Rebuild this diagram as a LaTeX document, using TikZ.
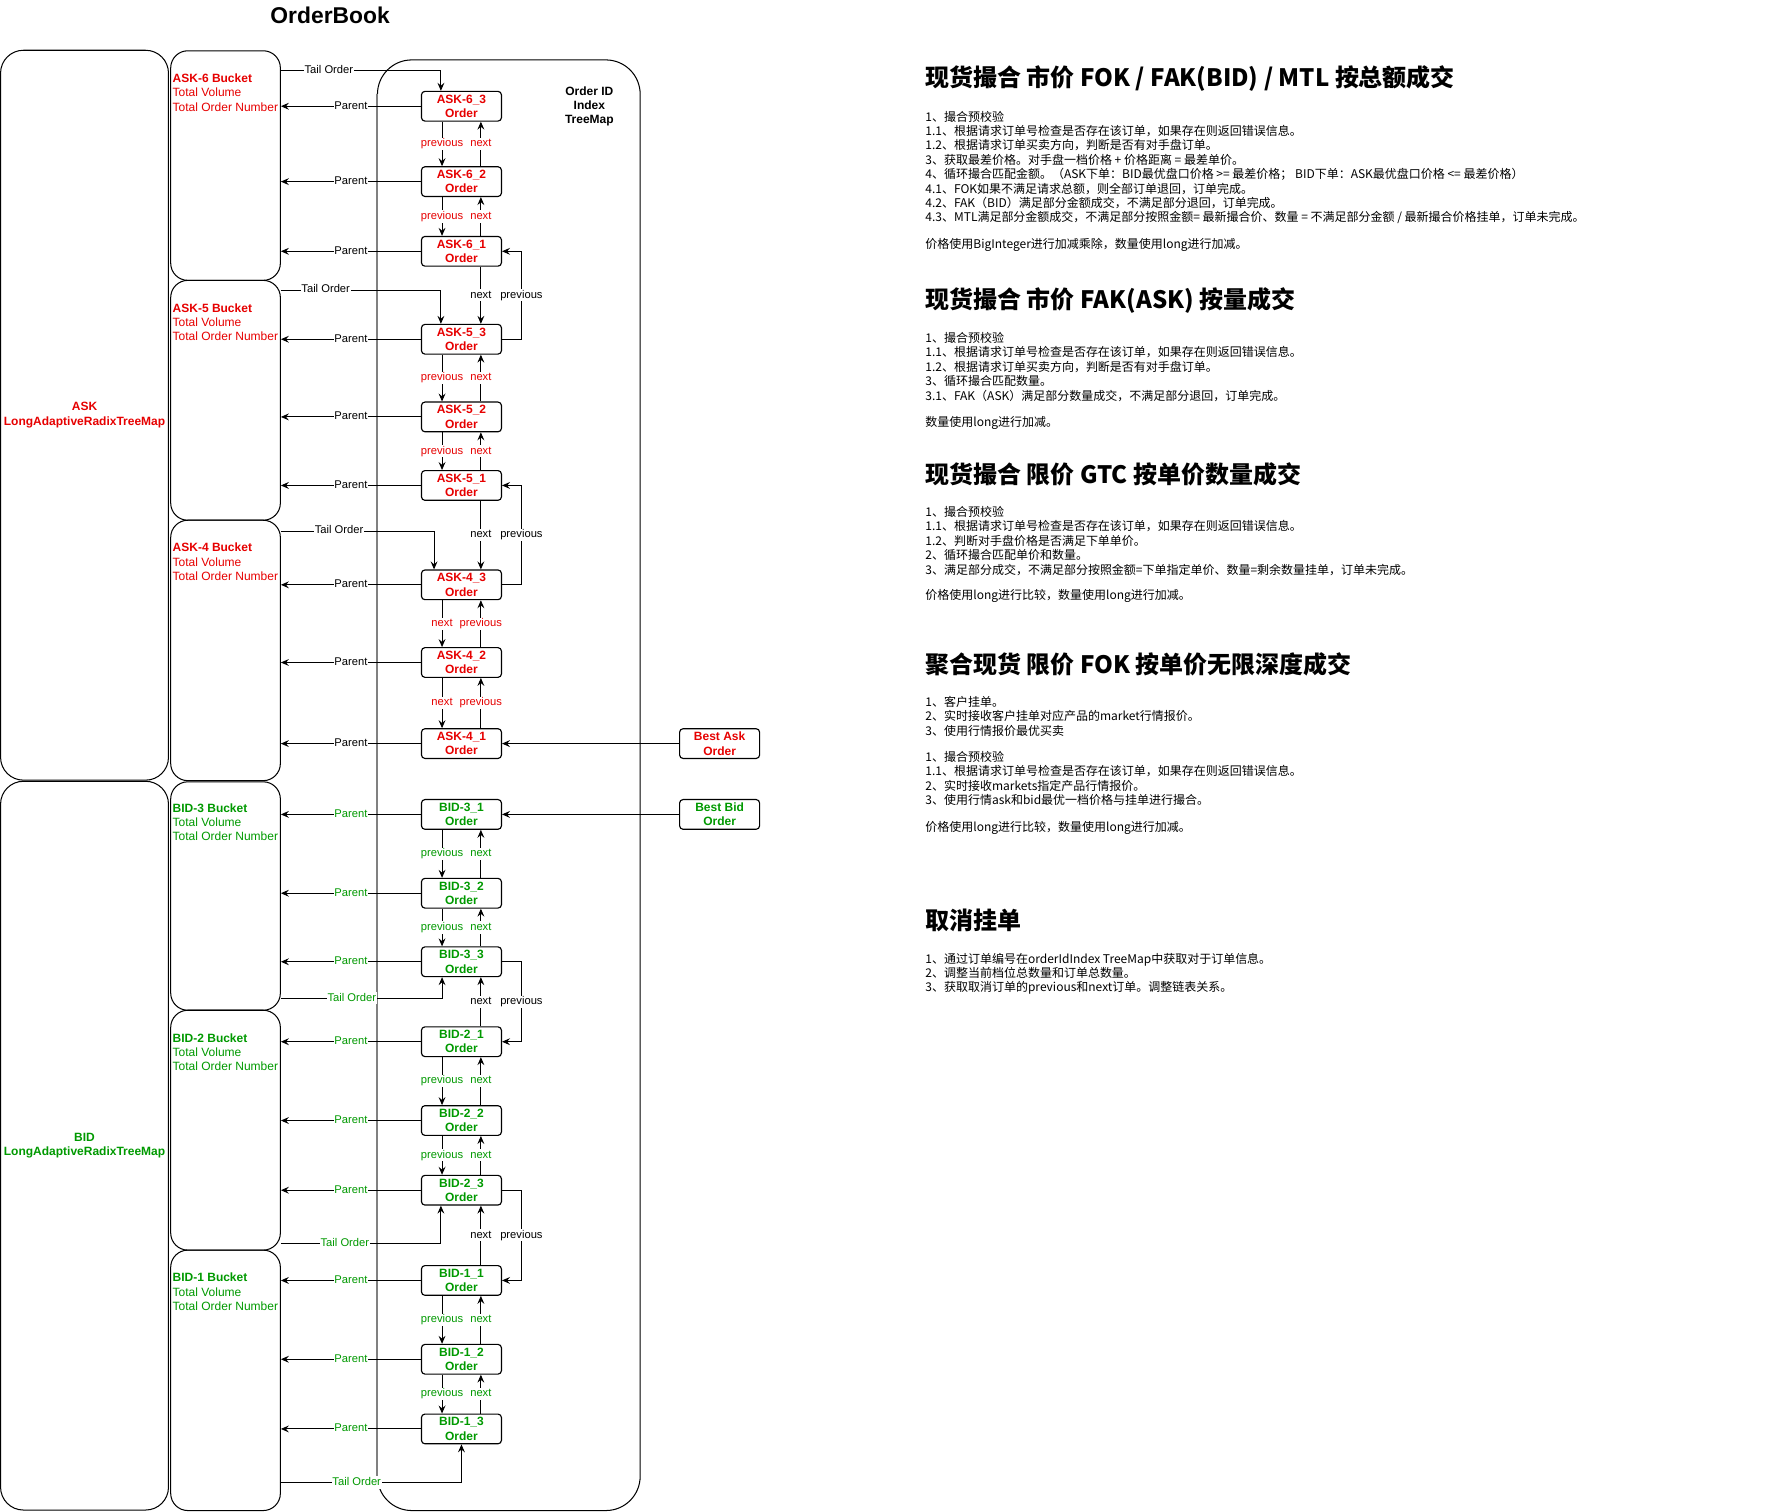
\documentclass[tikz,border=0pt]{standalone}
\usepackage{fontspec}
\setmainfont{Liberation Sans}
\newfontfamily\cjk{Noto Sans CJK SC}
\usetikzlibrary{arrows.meta,positioning}

\definecolor{askred}{HTML}{E60000}
\definecolor{bidgreen}{HTML}{009900}

\tikzset{
    treemap/.style={draw, line width=0.9pt, rounded corners=20pt, minimum width=147pt, inner sep=0pt, align=center, font=\bfseries\fontsize{10.5}{13}\selectfont},
    bucket/.style={draw, line width=0.9pt, rounded corners=15pt, minimum width=96pt, inner sep=0pt, anchor=north west},
    bktext/.style={anchor=west, align=left, inner sep=0pt, font=\fontsize{10.5}{12.5}\selectfont},
    order/.style={draw, line width=1pt, rounded corners=3pt, minimum width=70pt, minimum height=26pt, inner sep=0pt, align=center, font=\bfseries\fontsize{10.5}{12.5}\selectfont},
    link/.style={-{Stealth[length=7pt,width=6pt,inset=2.5pt]}, line width=0.8pt},
    lbl/.style={fill=white, inner sep=0.6pt, text height=7.2pt, text depth=2.2pt, font=\fontsize{9.8}{11}\selectfont},
    heading/.style={anchor=west, inner sep=0pt, font=\cjk\bfseries\fontsize{21}{24}\selectfont},
    notes/.style={anchor=west, align=left, inner sep=0pt, font=\cjk\fontsize{10.5}{12.6}\selectfont},
}

\begin{document}
\begin{tikzpicture}[x=1pt, y=-1pt]
    \useasboundingbox (0,0) rectangle (1568,1323);
    \node[font=\bfseries\fontsize{20}{24}\selectfont] (title) at (289,13) {OrderBook};

    % price level maps
    \node[treemap, text=askred, minimum height=639pt] (askmap) at (74,363.5) {ASK\\LongAdaptiveRadixTreeMap};
    \node[treemap, text=bidgreen, minimum height=638pt] (bidmap) at (74,1003) {BID\\LongAdaptiveRadixTreeMap};

    % buckets
    \node[bucket, minimum height=201pt] (bk6) at (149,44) {};
    \node[bucket, minimum height=210pt] (bk5) at (149,245) {};
    \node[bucket, minimum height=228pt] (bk4) at (149,455) {};
    \node[bucket, minimum height=200pt] (bb3) at (149,684) {};
    \node[bucket, minimum height=210pt] (bb2) at (149,884) {};
    \node[bucket, minimum height=228pt] (bb1) at (149,1094) {};
    \node[bktext, text=askred] (bk6t) at (151,81) {\textbf{ASK-6 Bucket}\\Total Volume\\Total Order Number};
    \node[bktext, text=askred] (bk5t) at (151,282) {\textbf{ASK-5 Bucket}\\Total Volume\\Total Order Number};
    \node[bktext, text=askred] (bk4t) at (151,492) {\textbf{ASK-4 Bucket}\\Total Volume\\Total Order Number};
    \node[bktext, text=bidgreen] (bb3t) at (151,720) {\textbf{BID-3 Bucket}\\Total Volume\\Total Order Number};
    \node[bktext, text=bidgreen] (bb2t) at (151,921) {\textbf{BID-2 Bucket}\\Total Volume\\Total Order Number};
    \node[bktext, text=bidgreen] (bb1t) at (151,1131) {\textbf{BID-1 Bucket}\\Total Volume\\Total Order Number};

    % order id index
    \node[draw, line width=0.9pt, rounded corners=30pt, minimum width=230pt, minimum height=1270pt, inner sep=0pt, anchor=north west] (idx) at (330,52) {};
    \draw[gray, line width=1.6pt] ([yshift=-30pt]idx.north west) -- ([yshift=30pt]idx.south west);
    \node[align=center, font=\bfseries\fontsize{10.5}{12.5}\selectfont] (idxt) at (516,93) {Order ID\\Index\\TreeMap};

    % orders
    \foreach \n/\y/\t in {a63/93/ASK-6\_3, a62/159/ASK-6\_2, a61/220/ASK-6\_1, a53/297/ASK-5\_3, a52/365/ASK-5\_2, a51/425/ASK-5\_1, a43/512/ASK-4\_3, a42/580/ASK-4\_2, a41/651/ASK-4\_1}
        \node[order, text=askred] (\n) at (404,\y) {\t\\Order};
    \foreach \n/\y/\t in {b31/713/BID-3\_1, b32/782/BID-3\_2, b33/842/BID-3\_3, b21/912/BID-2\_1, b22/981/BID-2\_2, b23/1042/BID-2\_3, b11/1121/BID-1\_1, b12/1190/BID-1\_2, b13/1251/BID-1\_3}
        \node[order, text=bidgreen] (\n) at (404,\y) {\t\\Order};
    \node[order, text=askred] (bestask) at (630,651) {Best Ask\\Order};
    \node[order, text=bidgreen] (bestbid) at (630,713) {Best Bid\\Order};
    \draw[link] (bestask) -- (a41);
    \draw[link] (bestbid) -- (b31);

    % parent links
    \foreach \n/\b in {a63/bk6, a62/bk6, a61/bk6, a53/bk5, a52/bk5, a51/bk5, a43/bk4, a42/bk4, a41/bk4}
        \draw[link] (\n.west) -- (\n.west -| \b.east) node[lbl, midway] {Parent};
    \foreach \n/\b in {b31/bb3, b32/bb3, b33/bb3, b21/bb2, b22/bb2, b23/bb2, b11/bb1, b12/bb1, b13/bb1}
        \draw[link] (\n.west) -- (\n.west -| \b.east) node[lbl, midway, text=bidgreen] {Parent};

    % links inside a bucket
    \foreach \u/\l in {a63/a62, a62/a61, a53/a52, a52/a51} {
        \draw[link] ([xshift=-17pt]\u.south) -- ([xshift=-17pt]\l.north) node[lbl, midway, text=askred] {previous};
        \draw[link] ([xshift=17pt]\l.north) -- ([xshift=17pt]\u.south) node[lbl, midway, text=askred] {next};
    }
    \foreach \u/\l in {a43/a42, a42/a41} {
        \draw[link] ([xshift=-17pt]\u.south) -- ([xshift=-17pt]\l.north) node[lbl, midway, text=askred] {next};
        \draw[link] ([xshift=17pt]\l.north) -- ([xshift=17pt]\u.south) node[lbl, midway, text=askred] {previous};
    }
    \foreach \u/\l in {b31/b32, b32/b33, b21/b22, b22/b23, b11/b12, b12/b13} {
        \draw[link] ([xshift=-17pt]\u.south) -- ([xshift=-17pt]\l.north) node[lbl, midway, text=bidgreen] {previous};
        \draw[link] ([xshift=17pt]\l.north) -- ([xshift=17pt]\u.south) node[lbl, midway, text=bidgreen] {next};
    }

    % links between buckets
    \foreach \u/\l in {a61/a53, a51/a43} {
        \draw[link] ([xshift=17pt]\u.south) -- ([xshift=17pt]\l.north) node[lbl, midway] {next};
        \draw[link] (\l.east) -- ++(17,0) |- (\u.east) node[lbl, pos=0.25] {previous};
    }
    \foreach \u/\l in {b33/b21, b23/b11} {
        \draw[link] ([xshift=17pt]\l.north) -- ([xshift=17pt]\u.south) node[lbl, midway] {next};
        \draw[link] (\u.east) -- ++(17,0) |- (\l.east) node[lbl, pos=0.25] {previous};
    }

    % tail orders
    \draw[link] ([yshift=-18pt]bk6.north east) -| ([xshift=-18pt]a63.north) node[lbl, pos=0.15] {Tail Order};
    \draw[link] ([yshift=-9pt]bk5.north east) -| ([xshift=-18pt]a53.north) node[lbl, pos=0.14] {Tail Order};
    \draw[link] ([yshift=-10pt]bk4.north east) -| ([xshift=-24pt]a43.north) node[lbl, pos=0.19] {Tail Order};
    \draw[link] ([yshift=11pt]bb3.south east) -| ([xshift=-17pt]b33.south) node[lbl, pos=0.22, text=bidgreen] {Tail Order};
    \draw[link] ([yshift=6pt]bb2.south east) -| ([xshift=-18pt]b23.south) node[lbl, pos=0.2, text=bidgreen] {Tail Order};
    \draw[link] ([yshift=25pt]bb1.south east) -| (b13.south) node[lbl, pos=0.21, text=bidgreen] {Tail Order};

    % notes
    \node[heading] (h1) at (810,69) {现货撮合 市价 FOK / FAK(BID) / MTL 按总额成交};
    \node[notes] (n1) at (810,158.5) {1、撮合预校验\\
        1.1、根据请求订单号检查是否存在该订单，如果存在则返回错误信息。\\
        1.2、根据请求订单买卖方向，判断是否有对手盘订单。\\
        3、获取最差价格。对手盘一档价格 + 价格距离 = 最差单价。\\
        4、循环撮合匹配金额。（ASK下单：BID最优盘口价格 >= 最差价格； BID下单：ASK最优盘口价格 <= 最差价格）\\
        4.1、FOK如果不满足请求总额，则全部订单退回，订单完成。\\
        4.2、FAK（BID）满足部分金额成交，不满足部分退回，订单完成。\\
        4.3、MTL满足部分金额成交，不满足部分按照金额= 最新撮合价、数量 = 不满足部分金额 / 最新撮合价格挂单，订单未完成。\\[10.4pt]
        价格使用BigInteger进行加减乘除，数量使用long进行加减。};
    \node[heading] (h2) at (810,263) {现货撮合 市价 FAK(ASK) 按量成交};
    \node[notes] (n2) at (810,333.5) {1、撮合预校验\\
        1.1、根据请求订单号检查是否存在该订单，如果存在则返回错误信息。\\
        1.2、根据请求订单买卖方向，判断是否有对手盘订单。\\
        3、循环撮合匹配数量。\\
        3.1、FAK（ASK）满足部分数量成交，不满足部分退回，订单完成。\\[10.4pt]
        数量使用long进行加减。};
    \node[heading] (h3) at (810,415) {现货撮合 限价 GTC 按单价数量成交};
    \node[notes] (n3) at (810,485.5) {1、撮合预校验\\
        1.1、根据请求订单号检查是否存在该订单，如果存在则返回错误信息。\\
        1.2、判断对手盘价格是否满足下单单价。\\
        2、循环撮合匹配单价和数量。\\
        3、满足部分成交，不满足部分按照金额=下单指定单价、数量=剩余数量挂单，订单未完成。\\[10pt]
        价格使用long进行比较，数量使用long进行加减。};
    \node[heading] (h4) at (810,582) {聚合现货 限价 FOK 按单价无限深度成交};
    \node[notes] (n4) at (810,670) {1、客户挂单。\\
        2、实时接收客户挂单对应产品的market行情报价。\\
        3、使用行情报价最优买卖\\[10.4pt]
        1、撮合预校验\\
        1.1、根据请求订单号检查是否存在该订单，如果存在则返回错误信息。\\
        2、实时接收markets指定产品行情报价。\\
        3、使用行情ask和bid最优一档价格与挂单进行撮合。\\[11pt]
        价格使用long进行比较，数量使用long进行加减。};
    \node[heading] (h5) at (810,806) {取消挂单};
    \node[notes] (n5) at (810,852.5) {1、通过订单编号在orderIdIndex TreeMap中获取对于订单信息。\\
        2、调整当前档位总数量和订单总数量。\\
        3、获取取消订单的previous和next订单。调整链表关系。};
\end{tikzpicture}
\end{document}
